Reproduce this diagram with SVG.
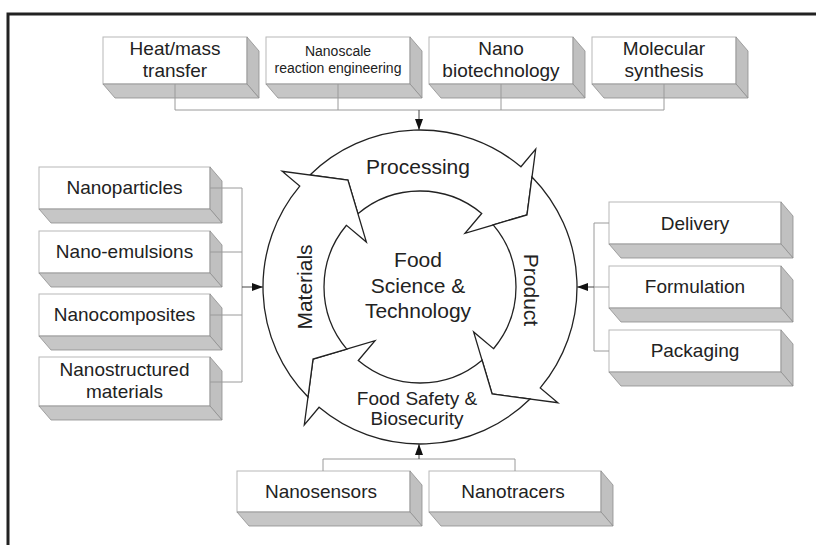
<svg xmlns="http://www.w3.org/2000/svg" width="816" height="545" viewBox="0 0 816 545">
<style>
.front{fill:#fff;stroke:#b8b8b8;stroke-width:1}
.side{fill:#c0c0c0;stroke:#8e8e8e;stroke-width:0.8}
.bot{fill:#c6c6c6;stroke:#8e8e8e;stroke-width:0.8}
.t{font-family:"Liberation Sans",Arial,sans-serif;font-size:19px;fill:#222;text-anchor:middle}
.ts{font-size:14px}
.c{font-size:21px}
.fs{font-size:19px}
.conn{fill:none;stroke:#9a9a9a;stroke-width:1}
.stem{fill:none;stroke:#444;stroke-width:1;marker-end:url(#ah)}
.arrow{fill:#fff;stroke:#222;stroke-width:1.3;stroke-linejoin:miter}
</style>
<defs>
<marker id="ah" markerWidth="11" markerHeight="8" refX="11" refY="4" orient="auto" markerUnits="userSpaceOnUse"><path d="M0,0 L11,4 L0,8 z" fill="#111"/></marker>
<path id="arr" d="M 15.05 -156.28 A 157 157 0 0 1 157 0 L 180 0 L 124 35.6 L 70 0 L 96 0 A 96 96 0 0 0 16.18 -94.63 L 35.6 -124 Z"/>
</defs>
<path d="M8,545 V14 H816" fill="none" stroke="#222" stroke-width="3"/>

<g id="cycle">
<use href="#arr" class="arrow" transform="translate(420,287) rotate(-50)"/>
<use href="#arr" class="arrow" transform="translate(420,287) rotate(40)"/>
<use href="#arr" class="arrow" transform="translate(420,287) rotate(130)"/>
<use href="#arr" class="arrow" transform="translate(420,287) rotate(220)"/>
<text class="t c" x="418" y="174">Processing</text>
<text class="t c" transform="translate(312,287) rotate(-90)">Materials</text>
<text class="t c" transform="translate(524,290) rotate(90)">Product</text>
<text class="t fs" x="417" y="405">Food Safety &amp;</text>
<text class="t fs" x="417" y="425">Biosecurity</text>
</g>
<g id="center">
<text class="t c" x="418" y="267">Food</text>
<text class="t c" x="418" y="293">Science &amp;</text>
<text class="t c" x="418" y="318">Technology</text>
</g>

<g id="box-heat">
<rect class="front" x="103" y="37" width="144" height="47"/>
<polygon class="side" points="247,37 259,51 259,98 247,84"/>
<polygon class="bot" points="103,84 247,84 259,98 115,98"/>
<text class="t" x="175" y="55">Heat/mass</text><text class="t" x="175" y="77">transfer</text>
</g>
<g id="box-nanoscale">
<rect class="front" x="266" y="37" width="144" height="47"/>
<polygon class="side" points="410,37 422,51 422,98 410,84"/>
<polygon class="bot" points="266,84 410,84 422,98 278,98"/>
<text class="t ts" x="338" y="56">Nanoscale</text><text class="t ts" x="338" y="73">reaction engineering</text>
</g>
<g id="box-nanobio">
<rect class="front" x="429" y="37" width="144" height="47"/>
<polygon class="side" points="573,37 585,51 585,98 573,84"/>
<polygon class="bot" points="429,84 573,84 585,98 441,98"/>
<text class="t" x="501" y="55">Nano</text><text class="t" x="501" y="77">biotechnology</text>
</g>
<g id="box-molecular">
<rect class="front" x="592" y="37" width="144" height="47"/>
<polygon class="side" points="736,37 748,51 748,98 736,84"/>
<polygon class="bot" points="592,84 736,84 748,98 604,98"/>
<text class="t" x="664" y="55">Molecular</text><text class="t" x="664" y="77">synthesis</text>
</g>

<g id="box-nanoparticles">
<rect class="front" x="39" y="167" width="171" height="42"/>
<polygon class="side" points="210,167 222,181 222,223 210,209"/>
<polygon class="bot" points="39,209 210,209 222,223 51,223"/>
<text class="t" x="124.5" y="194">Nanoparticles</text>
</g>
<g id="box-nanoemulsions">
<rect class="front" x="39" y="231" width="171" height="42"/>
<polygon class="side" points="210,231 222,245 222,287 210,273"/>
<polygon class="bot" points="39,273 210,273 222,287 51,287"/>
<text class="t" x="124.5" y="258">Nano-emulsions</text>
</g>
<g id="box-nanocomposites">
<rect class="front" x="39" y="294" width="171" height="42"/>
<polygon class="side" points="210,294 222,308 222,350 210,336"/>
<polygon class="bot" points="39,336 210,336 222,350 51,350"/>
<text class="t" x="124.5" y="321">Nanocomposites</text>
</g>
<g id="box-nanostructured">
<rect class="front" x="39" y="357" width="171" height="49"/>
<polygon class="side" points="210,357 222,371 222,420 210,406"/>
<polygon class="bot" points="39,406 210,406 222,420 51,420"/>
<text class="t" x="124.5" y="376">Nanostructured</text><text class="t" x="124.5" y="398">materials</text>
</g>

<g id="box-delivery">
<rect class="front" x="609" y="202" width="172" height="42"/>
<polygon class="side" points="781,202 793,216 793,258 781,244"/>
<polygon class="bot" points="609,244 781,244 793,258 621,258"/>
<text class="t" x="695" y="230">Delivery</text>
</g>
<g id="box-formulation">
<rect class="front" x="609" y="266" width="172" height="42"/>
<polygon class="side" points="781,266 793,280 793,322 781,308"/>
<polygon class="bot" points="609,308 781,308 793,322 621,322"/>
<text class="t" x="695" y="293">Formulation</text>
</g>
<g id="box-packaging">
<rect class="front" x="609" y="330" width="172" height="42"/>
<polygon class="side" points="781,330 793,344 793,386 781,372"/>
<polygon class="bot" points="609,372 781,372 793,386 621,386"/>
<text class="t" x="695" y="357">Packaging</text>
</g>

<g id="box-nanosensors">
<rect class="front" x="237" y="471" width="173" height="41"/>
<polygon class="side" points="410,471 422,485 422,526 410,512"/>
<polygon class="bot" points="237,512 410,512 422,526 249,526"/>
<text class="t" x="321" y="498">Nanosensors</text>
</g>
<g id="box-nanotracers">
<rect class="front" x="429" y="471" width="172" height="41"/>
<polygon class="side" points="601,471 613,485 613,526 601,512"/>
<polygon class="bot" points="429,512 601,512 613,526 441,526"/>
<text class="t" x="513" y="498">Nanotracers</text>
</g>

<g id="connectors">
<path class="conn" d="M175,84 V110 M338,84 V110 M501,84 V110 M664,84 V110 M175,110 H664"/>
<path class="conn" d="M210,188 H242 M210,252 H242 M210,315 H242 M210,382 H242 M242,188 V382"/>
<path class="conn" d="M609,223 H594 M609,287 H594 M609,351 H594 M594,223 V351"/>
<path class="conn" d="M323,471 V459 M515,471 V459 M323,459 H515"/>
<path class="stem" d="M419,110 V130"/>
<path class="stem" d="M242,287 H263"/>
<path class="stem" d="M594,287 H577"/>
<path class="stem" d="M419,459 V444"/>
</g>
</svg>
